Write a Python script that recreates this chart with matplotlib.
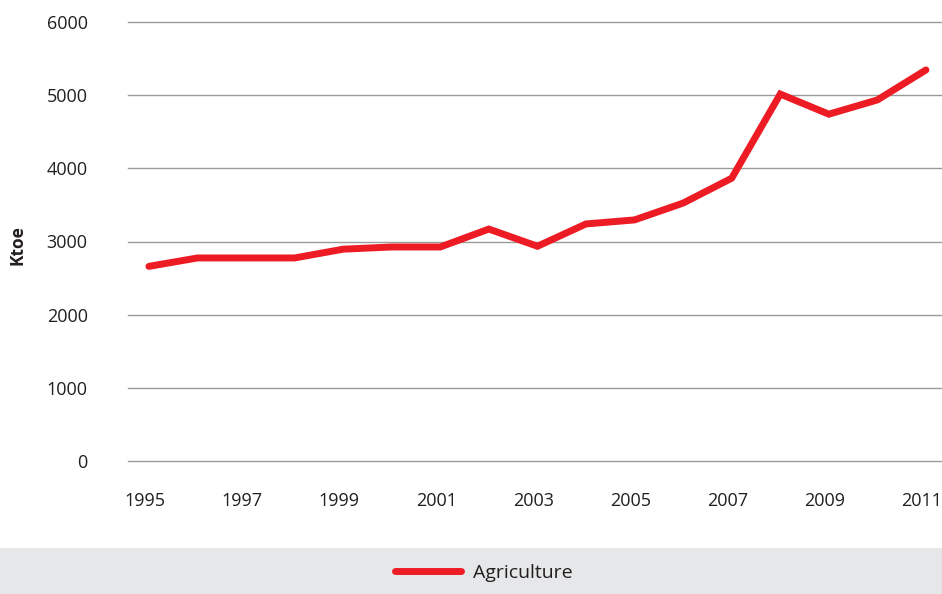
import numpy as np
import matplotlib.pyplot as plt
import matplotlib.transforms as mtransforms
from matplotlib.patches import Rectangle
from matplotlib.lines import Line2D

plt.rcParams['font.family'] = ['Open Sans', 'DejaVu Sans']

years = list(range(1995, 2012))
agriculture = [2660, 2775, 2775, 2775, 2895, 2925, 2925, 3170, 2935,
               3240, 3295, 3525, 3865, 5015, 4740, 4935, 5345]
xtick_years = [1995, 1997, 1999, 2001, 2003, 2005, 2007, 2009, 2011]
ytick_vals = [0, 1000, 2000, 3000, 4000, 5000, 6000]

fig = plt.figure(figsize=(9.42, 5.94), dpi=100)
ax = fig.add_axes([128/942, 1-461/594, 1-128/942, (461-22)/594])

#### grey legend band at the bottom ####
fig.patches.append(Rectangle((0, 0), 1, 46/594, transform=fig.transFigure,
                             facecolor='#e6e7e8', edgecolor='none', zorder=0))

ax.plot(years, agriculture, color='#ed1c24', lw=5.0,
        solid_joinstyle='miter', solid_capstyle='round', zorder=3)

ax.set_ylim(0, 6000)
ax.set_xlim(1994.57, 2011.33)
ax.set_yticks(ytick_vals)
ax.set_xticks(xtick_years)
ax.set_xticklabels([str(y) for y in xtick_years])
ax.grid(axis='y', color='#9a9a9a', lw=1.0)
for gl in ax.get_ygridlines():
    gl.set_clip_on(False)
ax.set_axisbelow(True)
for s in ax.spines.values():
    s.set_visible(False)
ax.tick_params(length=0, labelsize=13, colors='#231f20')
ax.tick_params(axis='y', pad=29)
ax.tick_params(axis='x', pad=22)
# labels sit a few px left of the data points in the original
shift = mtransforms.ScaledTranslation(-4/100, 0, fig.dpi_scale_trans)
for lab in ax.get_xticklabels():
    lab.set_transform(lab.get_transform() + shift)

fig.text(18/942, 1-245/594, 'Ktoe', rotation=90, fontsize=12.5,
         fontweight='bold', color='#231f20', ha='center', va='center')

handle = Line2D([], [], color='#ed1c24', lw=5.0, solid_capstyle='round')
fig.legend([handle], ['Agriculture'], loc='center',
           bbox_to_anchor=(484/942, 1-573/594), frameon=False,
           fontsize=14, handlelength=3.4, handletextpad=0.6,
           labelcolor='#231f20')

fig.savefig('out.png', dpi=100)
